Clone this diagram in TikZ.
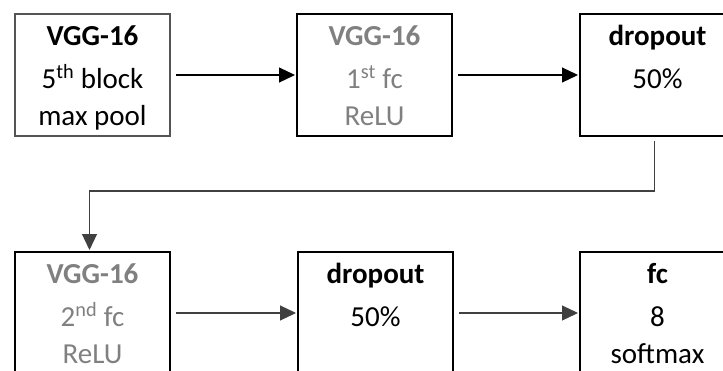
\documentclass[tikz,border=0pt]{standalone}
\usepackage{fontspec}
\setmainfont{Carlito}
\usepackage{tikz}
\usetikzlibrary{arrows.meta}
\definecolor{dimtext}{HTML}{808080}
\definecolor{poolframe}{HTML}{555555}
\definecolor{lowline}{HTML}{404040}

\newcommand{\boxtext}[1]{\parbox[t][122pt][t]{155pt}{\centering\fontsize{29}{37}\selectfont\rule{0pt}{31pt}#1}}

\begin{document}
\begin{tikzpicture}[x=1pt, y=-1pt,
  stage/.style={rectangle, draw, line width=2pt, anchor=north west,
                inner sep=0pt, minimum width=155pt, minimum height=122pt},
  flow/.style={line width=1.2pt, -{Triangle[length=16pt, width=15pt]},
               shorten <=5pt, shorten >=1pt},
]

\useasboundingbox (0,0) rectangle (723,370);

\node[stage, draw=poolframe] (vgg5) at (14,13) {\boxtext{\textbf{VGG-16}\\[6pt]5\textsuperscript{th} block\\max pool}};
\node[stage, text=dimtext] (fc1) at (296,13) {\boxtext{\textbf{VGG-16}\\[6pt]1\textsuperscript{st} fc\\ReLU}};
\node[stage] (drop1) at (579,13) {\boxtext{\textbf{dropout}\\[6pt]50\%}};

\node[stage, text=dimtext] (fc2) at (14,251) {\boxtext{\textbf{VGG-16}\\[6pt]2\textsuperscript{nd} fc\\ReLU}};
\node[stage] (drop2) at (297,251) {\boxtext{\textbf{dropout}\\[6pt]50\%}};
\node[stage] (fcout) at (579,251) {\boxtext{\textbf{fc}\\[6pt]8\\softmax}};

\draw[flow] (vgg5) -- (fc1);
\draw[flow] (fc1) -- (drop1);
\draw[flow, shorten <=4pt, lowline] ([xshift=-3pt]drop1.south) -- ++(0,54) -| ([xshift=-3pt]fc2.north);
\draw[flow, lowline] (fc2) -- (drop2);
\draw[flow, lowline] (drop2) -- (fcout);

\end{tikzpicture}
\end{document}
